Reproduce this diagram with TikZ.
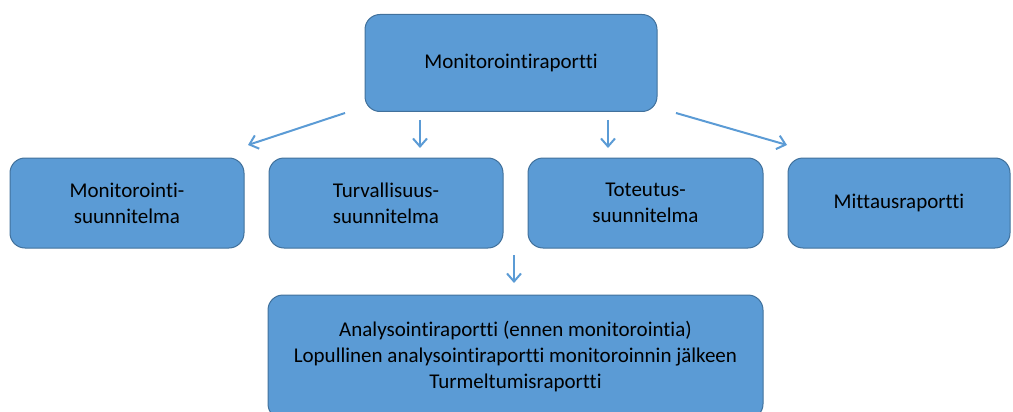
\documentclass[tikz,border=0pt]{standalone}
\usepackage{fontspec}
\setmainfont[Ligatures=NoCommon]{Carlito}
\usepackage{xcolor}
\usetikzlibrary{arrows.meta,positioning}
\definecolor{boxblue}{HTML}{5B9BD5}
\definecolor{boxedge}{HTML}{41719C}

\begin{document}
\begin{tikzpicture}[x=1pt, y=-1pt, >={Straight Barb[length=8pt,width=14pt]},
  font=\fontsize{21}{26}\selectfont,
  doc/.style={draw=boxedge, line width=1pt, fill=boxblue, rounded corners=15pt,
    align=center, inner sep=0pt},
  link/.style={->, draw=boxblue, line width=2pt}]
  \useasboundingbox (0,0) rectangle (1013,412);
  % monitoring report on top
  \node[doc, minimum width=292pt, minimum height=97pt] (mon) at (511,63) {Monitorointiraportti};
  % four plans and reports
  \node[doc, minimum width=234pt, minimum height=90pt] (plan) at (127,203) {Monitorointi-\\suunnitelma};
  \node[doc, minimum width=234pt, minimum height=90pt] (safe) at (386,203) {Turvallisuus-\\suunnitelma};
  \node[doc, minimum width=235pt, minimum height=90pt] (real) at (645.5,203) {Toteutus-\\suunnitelma};
  \node[doc, minimum width=222pt, minimum height=90pt] (meas) at (899,203) {Mittausraportti};
  % analysis reports, cut at the bottom
  \node[doc, minimum width=495pt, minimum height=124pt] (anal) at (515.5,357)
    {Analysointiraportti (ennen monitorointia)\\Lopullinen analysointiraportti monitoroinnin jälkeen\\Turmeltumisraportti};
  % arrow ends
  \coordinate (a1) at (345,113); \coordinate (b1) at (248,145);
  \coordinate (a2) at (420,120); \coordinate (b2) at (420,148);
  \coordinate (a3) at (608,120); \coordinate (b3) at (608,148);
  \coordinate (a4) at (676,113); \coordinate (b4) at (787,145);
  \coordinate (a5) at (514,255); \coordinate (b5) at (514,283);
  \draw[link] (a1) -- (b1);
  \draw[link] (a2) -- (b2);
  \draw[link] (a3) -- (b3);
  \draw[link] (a4) -- (b4);
  \draw[link] (a5) -- (b5);
\end{tikzpicture}
\end{document}
